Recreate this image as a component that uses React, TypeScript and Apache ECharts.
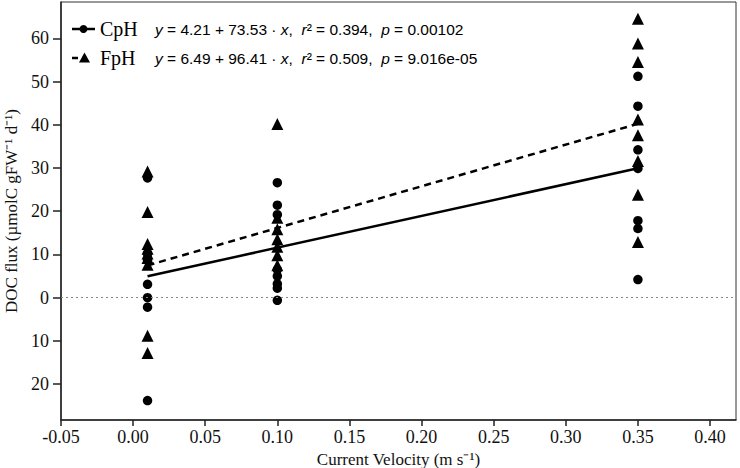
import React, { useEffect, useRef } from "react";
import * as echarts from "echarts";

// Current velocity groups (m s^-1)
const velocities = [0.01, 0.1, 0.35];

// CpH DOC flux values at each velocity
const cphAt001 = [27.7, 10.2, 8.8, 3.1, 0.0, -2.2, -23.8];
const cphAt010 = [26.6, 21.4, 19.2, 6.5, 5.0, 3.2, 2.2, -0.6];
const cphAt035 = [51.2, 44.3, 34.2, 29.9, 17.8, 16.0, 4.2];

// FpH DOC flux values at each velocity
const fphAt001 = [29.2, 19.8, 12.4, 11.3, 10.2, 9.2, 7.6, -8.8, -12.8];
const fphAt010 = [40.2, 18.5, 15.8, 13.5, 11.8, 9.8, 7.5];
const fphAt035 = [64.5, 58.8, 54.5, 41.2, 37.6, 31.6, 23.8, 12.9];

// Regression fits: [intercept, slope]
const cphFit = [4.21, 73.53];
const fphFit = [6.49, 96.41];
const cphStats = ["0.394", "0.00102"];
const fphStats = ["0.509", "9.016e-05"];

// Tick values
const yTicks = [-20, -10, 0, 10, 20, 30, 40, 50, 60];
const xTicks = [-0.05, 0, 0.05, 0.1, 0.15, 0.2, 0.25, 0.3, 0.35, 0.4];

const SERIF = "Liberation Serif";
const SANS = "Liberation Sans";

function pairs(groups: number[][]) {
  const out: number[][] = [];
  groups.forEach((vals, i) => vals.forEach((v) => out.push([velocities[i], v])));
  return out;
}

function fitLine(fit: number[]) {
  const x0 = velocities[0];
  const x1 = velocities[velocities.length - 1];
  return [
    [x0, fit[0] + fit[1] * x0],
    [x1, fit[0] + fit[1] * x1],
  ];
}

function eqText(fit: number[], stats: string[]) {
  return `{i|y} = ${fit[0].toFixed(2)} + ${fit[1].toFixed(2)} · {i|x},  {i|r}² = ${stats[0]},  {i|p} = ${stats[1]}`;
}

export default function App() {
  const ref = useRef<HTMLDivElement>(null);

  useEffect(() => {
    document.body.style.margin = "0";
    if (!ref.current) return;
    const chart = echarts.init(ref.current, null, { renderer: "svg" });

    const eqRich = {
      i: { fontStyle: "italic", fontSize: 15.5, fontFamily: SANS, fill: "#000" },
    };
    const tickRich = {
      s: { fontFamily: SERIF, fontSize: 18, color: "#111" },
    };

    const option: any = {
      animation: false,
      backgroundColor: "#fff",
      textStyle: { fontFamily: SERIF },
      grid: {
        left: 61,
        right: 4,
        top: 2,
        bottom: 48,
        show: true,
        borderColor: "#333",
        borderWidth: 1,
        containLabel: false,
        outerBoundsMode: "none",
      },
      xAxis: {
        type: "value",
        min: -0.05,
        max: 0.418,
        name: "Current Velocity (m s⁻¹)",
        nameLocation: "middle",
        nameGap: 25,
        nameTextStyle: { fontFamily: SERIF, fontSize: 17, color: "#111" },
        axisLine: { show: true, onZero: false, lineStyle: { color: "#222", width: 1.5 } },
        axisTick: {
          show: true,
          length: 6,
          customValues: xTicks,
          lineStyle: { color: "#222", width: 1.5 },
        },
        axisLabel: {
          customValues: xTicks,
          margin: 8,
          fontFamily: SERIF,
          fontSize: 18,
          color: "#111",
          rich: tickRich,
          formatter: (v: number) => `{s|${v.toFixed(2)}}`,
        },
        splitLine: { show: false },
      },
      yAxis: {
        type: "value",
        min: -28.3,
        max: 68.4,
        name: "DOC flux (µmolC gFW⁻¹ d⁻¹)",
        nameLocation: "middle",
        nameRotate: 90,
        nameGap: 38,
        nameTextStyle: { fontFamily: SERIF, fontSize: 17, color: "#111" },
        axisLine: { show: true, onZero: false, lineStyle: { color: "#222", width: 1.5 } },
        axisTick: {
          show: true,
          length: 8,
          customValues: yTicks,
          lineStyle: { color: "#222", width: 1.5 },
        },
        axisLabel: {
          customValues: yTicks,
          margin: 12,
          fontFamily: SERIF,
          fontSize: 18,
          color: "#111",
          rich: tickRich,
          formatter: (v: number) => `{s|${Math.abs(v)}}`,
        },
        splitLine: { show: false },
      },
      series: [
        {
          name: "CpH",
          type: "scatter",
          symbol: "circle",
          symbolSize: 9.5,
          itemStyle: { color: "#000", opacity: 1 },
          data: pairs([cphAt001, cphAt010, cphAt035]),
          markLine: {
            silent: true,
            symbol: ["none", "none"],
            label: { show: false },
            lineStyle: { color: "#888", type: [2, 3], width: 1 },
            data: [{ yAxis: 0 }],
          },
          z: 3,
        },
        {
          name: "FpH",
          type: "scatter",
          symbol: "triangle",
          symbolSize: 12,
          itemStyle: { color: "#000", opacity: 1 },
          data: pairs([fphAt001, fphAt010, fphAt035]),
          z: 3,
        },
        {
          name: "CpH fit",
          type: "line",
          showSymbol: false,
          symbol: "none",
          lineStyle: { color: "#000", width: 2.5 },
          data: fitLine(cphFit),
          z: 4,
        },
        {
          name: "FpH fit",
          type: "line",
          showSymbol: false,
          symbol: "none",
          lineStyle: { color: "#000", width: 2.5, type: [7, 5] },
          data: fitLine(fphFit),
          z: 4,
        },
      ],
      graphic: [
        {
          type: "group",
          z: 10,
          children: [
            {
              type: "line",
              shape: { x1: 72, y1: 29, x2: 95, y2: 29 },
              style: { stroke: "#000", lineWidth: 2.5 },
            },
            {
              type: "circle",
              shape: { cx: 83.5, cy: 29, r: 4 },
              style: { fill: "#000" },
            },
            {
              type: "text",
              x: 100,
              y: 29,
              style: {
                text: "CpH",
                fontFamily: SERIF,
                fontSize: 20,
                fill: "#000",
                verticalAlign: "middle",
              },
            },
            {
              type: "text",
              x: 155,
              y: 29,
              style: {
                text: eqText(cphFit, cphStats),
                rich: eqRich,
                fontFamily: SANS,
                fontSize: 15.5,
                fill: "#000",
                verticalAlign: "middle",
              },
            },
            {
              type: "line",
              shape: { x1: 72, y1: 58, x2: 78, y2: 58 },
              style: { stroke: "#000", lineWidth: 2.5 },
            },
            {
              type: "polygon",
              shape: {
                points: [
                  [79, 62.5],
                  [90, 62.5],
                  [84.5, 52.5],
                ],
              },
              style: { fill: "#000" },
            },
            {
              type: "text",
              x: 100,
              y: 58,
              style: {
                text: "FpH",
                fontFamily: SERIF,
                fontSize: 20,
                fill: "#000",
                verticalAlign: "middle",
              },
            },
            {
              type: "text",
              x: 155,
              y: 58,
              style: {
                text: eqText(fphFit, fphStats),
                rich: eqRich,
                fontFamily: SANS,
                fontSize: 15.5,
                fill: "#000",
                verticalAlign: "middle",
              },
            },
          ],
        },
      ],
    };

    chart.setOption(option);
    return () => chart.dispose();
  }, []);

  return <div ref={ref} style={{ width: 740, height: 468 }} />;
}
